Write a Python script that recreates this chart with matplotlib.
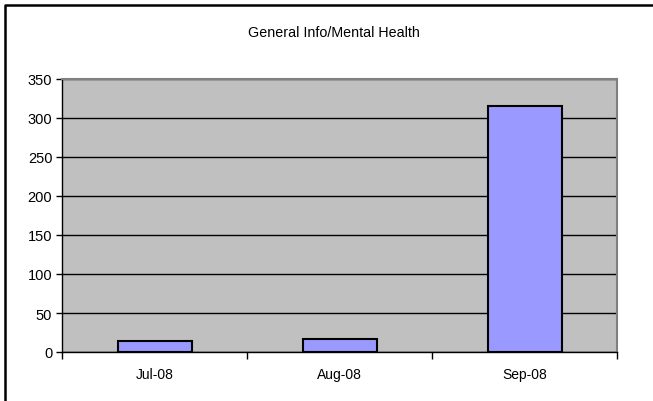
import matplotlib
matplotlib.use("Agg")
import matplotlib.pyplot as plt
from matplotlib.lines import Line2D
import numpy as np

categories = ["Jul-08", "Aug-08", "Sep-08"]
values = [14, 17, 315]
title = "General Info/Mental Health"
yticks = [0, 50, 100, 150, 200, 250, 300, 350]

plt.rcParams['font.family'] = ['Liberation Sans', 'DejaVu Sans']

W, H = 653, 402
fig = plt.figure(figsize=(W/100, H/100), dpi=100)
ax = fig.add_axes([62/W, 1-353/H, (617-62)/W, (353-80)/H])
ax.set_facecolor("#C0C0C0")

x = np.arange(len(categories))
ax.bar(x, values, width=0.4, color="#9999FF", edgecolor="black", linewidth=1.5, zorder=3)
ax.set_xlim(-0.5, len(categories)-0.5)
ax.set_ylim(0, 350)
ax.set_yticks(yticks)
ax.set_yticklabels([str(v) for v in yticks], fontsize=10.5)
ax.yaxis.grid(True, color="black", linewidth=1)
ax.set_axisbelow(True)

# x ticks at category boundaries, labels at centers
ax.set_xticks(np.arange(len(categories)+1)-0.5)
ax.set_xticklabels([])
ax.set_xticks(x, minor=True)
ax.set_xticklabels(categories, minor=True, fontsize=10)
ax.tick_params(axis='x', which='minor', length=0, pad=11)
ax.tick_params(axis='x', which='major', length=5, width=1, color="black")
ax.tick_params(axis='y', length=4, width=1, color="black", pad=3)

for s in ["top", "right"]:
    ax.spines[s].set_color("#808080")
    ax.spines[s].set_linewidth(1.5)
for s in ["left", "bottom"]:
    ax.spines[s].set_color("black")
    ax.spines[s].set_linewidth(1)

fig.text(334/W, 1-33/H, title, ha="center", va="center", fontsize=10.3)

# outer frame (left and top)
fig.add_artist(Line2D([4.5/W, 4.5/W, 1.0], [0.0, 1-6/H, 1-6/H], transform=fig.transFigure,
                      color="black", linewidth=1.8))

fig.savefig("out.png", dpi=100)
